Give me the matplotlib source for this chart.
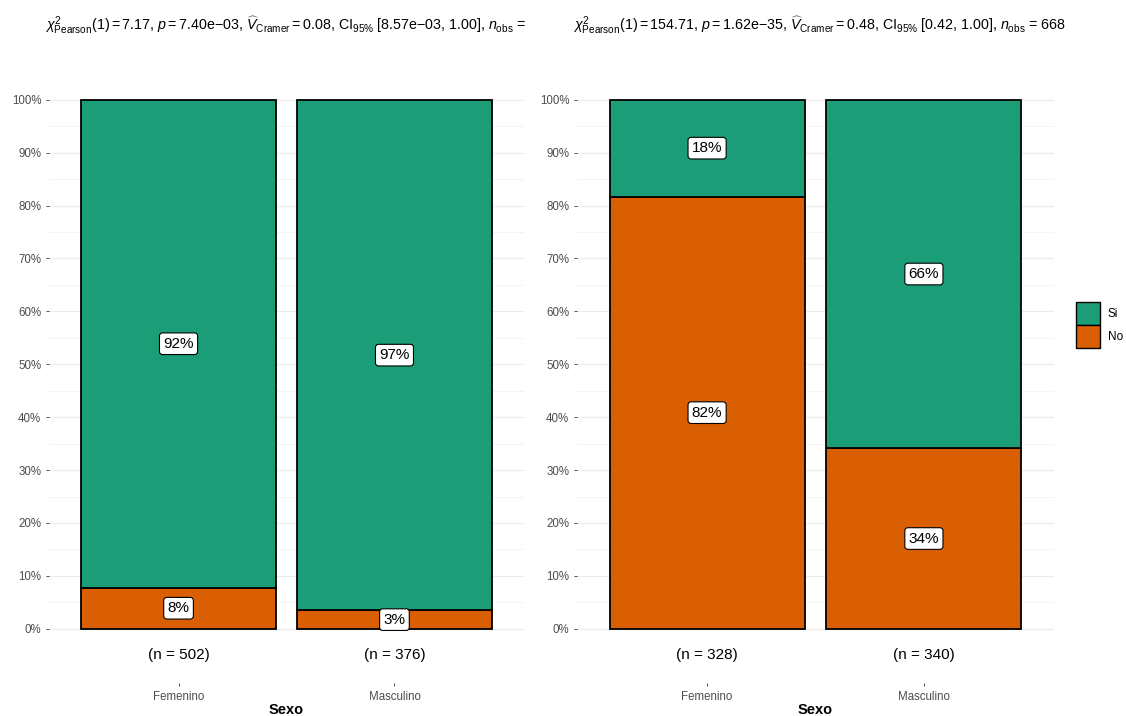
import matplotlib
matplotlib.use("Agg")
import matplotlib.pyplot as plt
from matplotlib.patches import Patch
from matplotlib.ticker import FixedLocator, FuncFormatter

plt.rcParams["font.family"] = ["Liberation Sans", "DejaVu Sans"]
plt.rcParams["mathtext.fontset"] = "custom"
plt.rcParams["mathtext.rm"] = "Liberation Sans"
plt.rcParams["mathtext.it"] = "Liberation Sans:italic"
plt.rcParams["mathtext.bf"] = "Liberation Sans:bold"

# Counts per sex (No / total) for each of the two contingency tables
sexo = ["Femenino", "Masculino"]
left_no = [39, 13]
left_total = [502, 376]
right_no = [268, 116]
right_total = [328, 340]

left_subtitle = (r"$\chi^2_{\mathrm{Pearson}}(1) = 7.17$, $\mathit{p} = 7.40\mathrm{e}{-}03$, "
                 r"$\widehat{\mathit{V}}_{\mathrm{Cramer}} = 0.08$, $\mathrm{CI}_{95\%}$ [8.57e$-$03, 1.00], "
                 r"$\mathit{n}_{\mathrm{obs}}$ = ")
right_subtitle = (r"$\chi^2_{\mathrm{Pearson}}(1) = 154.71$, $\mathit{p} = 1.62\mathrm{e}{-}35$, "
                  r"$\widehat{\mathit{V}}_{\mathrm{Cramer}} = 0.48$, $\mathrm{CI}_{95\%}$ [0.42, 1.00], "
                  r"$\mathit{n}_{\mathrm{obs}}$ = 668")

SI_COLOR = "#1B9E77"
NO_COLOR = "#D95F02"
W, H = 1126, 716


def px_axes(fig, x0, x1, y_top, y_bottom):
    return fig.add_axes([x0 / W, 1 - y_bottom / H, (x1 - x0) / W, (y_bottom - y_top) / H])


def draw_panel(ax, no_counts, totals, subtitle):
    xs = [1, 2]
    no_share = [n / t for n, t in zip(no_counts, totals)]
    si_share = [1 - s for s in no_share]

    ax.bar(xs, no_share, width=0.9, color=NO_COLOR, edgecolor="black", linewidth=1.3, zorder=2)
    ax.bar(xs, si_share, bottom=no_share, width=0.9, color=SI_COLOR, edgecolor="black",
           linewidth=1.3, zorder=2)

    box = dict(boxstyle="round,pad=0.25,rounding_size=0.2", fc="white", ec="black", lw=0.8)
    for x, no, si, tot in zip(xs, no_share, si_share, totals):
        ax.text(x, no / 2, f"{round(no * 100)}%", ha="center", va="center", fontsize=11,
                bbox=box, zorder=3)
        ax.text(x, no + si / 2, f"{round(si * 100)}%", ha="center", va="center", fontsize=11,
                bbox=box, zorder=3)
        ax.text(x, -0.05, f"(n = {tot})", ha="center", va="center", fontsize=11)

    ax.set_xlim(0.4, 2.6)
    ax.set_ylim(-0.1025, 1.0525)
    ax.set_yticks([i / 10 for i in range(11)])
    ax.yaxis.set_minor_locator(FixedLocator([i / 20 for i in range(1, 20, 2)]))
    ax.yaxis.set_major_formatter(FuncFormatter(lambda v, _: f"{v * 100:.0f}%"))
    ax.set_xticks(xs)
    ax.set_xticklabels(sexo)
    ax.tick_params(axis="both", which="major", labelsize=8.3, labelcolor="#4D4D4D",
                   color="#333333", length=2.5, width=0.6, pad=3)
    ax.tick_params(axis="y", which="minor", length=0)
    ax.tick_params(axis="x", pad=3)
    for spine in ax.spines.values():
        spine.set_visible(False)
    ax.grid(axis="y", which="major", color="#EBEBEB", linewidth=0.9, zorder=0)
    ax.grid(axis="y", which="minor", color="#F2F2F2", linewidth=0.6, zorder=0)
    ax.set_axisbelow(True)
    ax.set_xlabel("Sexo", fontsize=10.5, fontweight="bold", labelpad=0)

    fig = ax.figure
    bbox = ax.get_position()
    fig.text(bbox.x0 - 4 / W, 1 - 25 / H, subtitle, ha="left", va="center", fontsize=10.3)


fig = plt.figure(figsize=(W / 100, H / 100), dpi=100)
ax_left = px_axes(fig, 49, 524, 72, 683)
ax_right = px_axes(fig, 577, 1054, 72, 683)

draw_panel(ax_left, left_no, left_total, left_subtitle)
draw_panel(ax_right, right_no, right_total, right_subtitle)

handles = [Patch(facecolor=SI_COLOR, edgecolor="black", linewidth=1.0),
           Patch(facecolor=NO_COLOR, edgecolor="black", linewidth=1.0)]
fig.legend(handles, ["Si", "No"], loc="center left", bbox_to_anchor=(1076 / W, 1 - 325 / H),
           frameon=False, fontsize=8.5, handlelength=2.0, handleheight=2.6, labelspacing=0.0,
           handletextpad=0.7, borderaxespad=0, borderpad=0.0)

fig.savefig("out.png", dpi=100)
